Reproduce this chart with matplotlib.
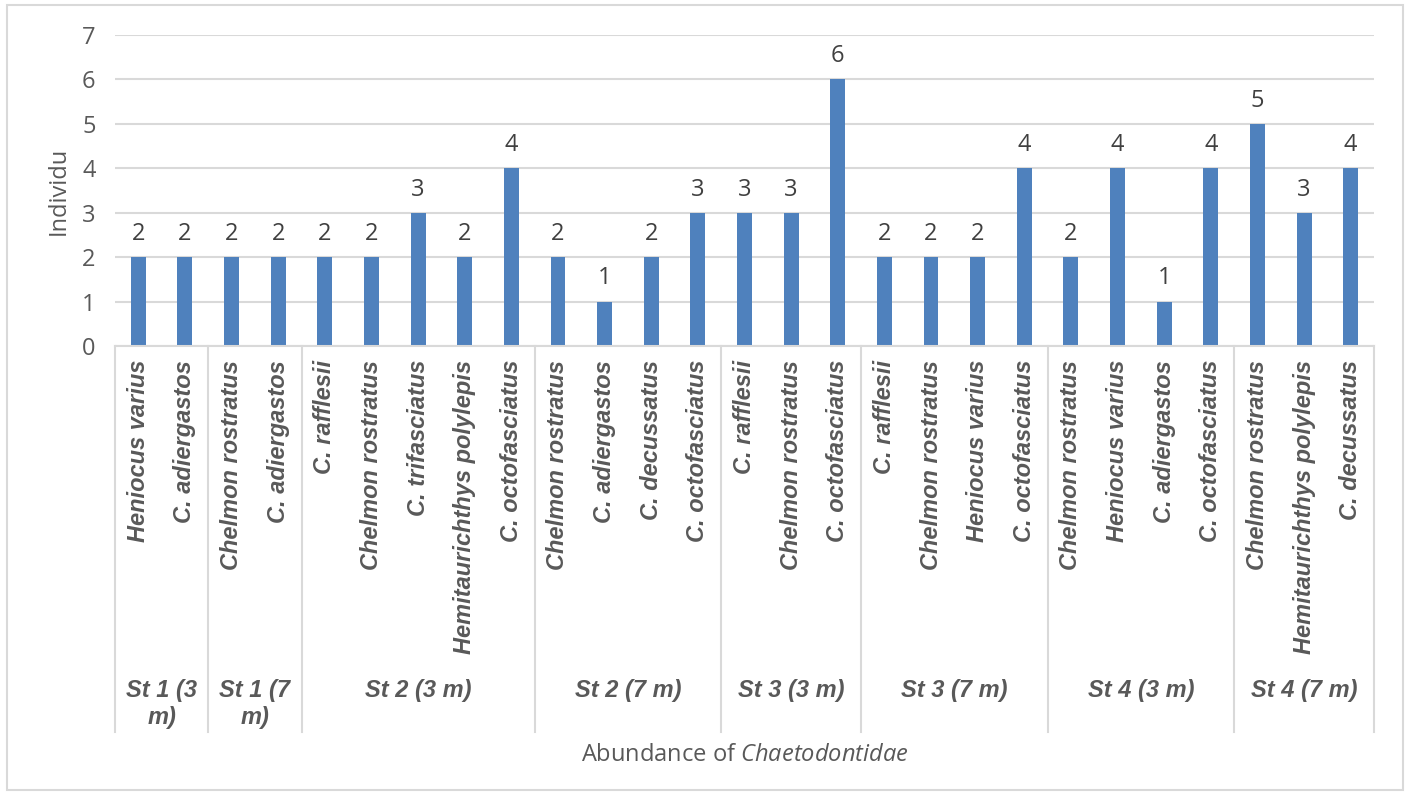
import matplotlib.pyplot as plt
from matplotlib.patches import Rectangle
from matplotlib.transforms import blended_transform_factory

plt.rcParams['mathtext.fontset'] = 'custom'
plt.rcParams['mathtext.it'] = 'Open Sans:italic'
plt.rcParams['mathtext.rm'] = 'Open Sans'

# species per bar, in order
species = [
    "Heniocus varius", "C. adiergastos",
    "Chelmon rostratus", "C. adiergastos",
    "C. rafflesii", "Chelmon rostratus", "C. trifasciatus", "Hemitaurichthys polylepis", "C. octofasciatus",
    "Chelmon rostratus", "C. adiergastos", "C. decussatus", "C. octofasciatus",
    "C. rafflesii", "Chelmon rostratus", "C. octofasciatus",
    "C. rafflesii", "Chelmon rostratus", "Heniocus varius", "C. octofasciatus",
    "Chelmon rostratus", "Heniocus varius", "C. adiergastos", "C. octofasciatus",
    "Chelmon rostratus", "Hemitaurichthys polylepis", "C. decussatus",
]
counts = [2, 2, 2, 2, 2, 2, 3, 2, 4, 2, 1, 2, 3, 3, 3, 6, 2, 2, 2, 4, 2, 4, 1, 4, 5, 3, 4]

groups = ["St 1 (3\nm)", "St 1 (7\nm)", "St 2 (3 m)", "St 2 (7 m)",
          "St 3 (3 m)", "St 3 (7 m)", "St 4 (3 m)", "St 4 (7 m)"]
group_sizes = [2, 2, 5, 4, 3, 4, 4, 3]

bar_color = "#4F81BD"
text_color = "#595959"
grid_color = "#D9D9D9"
fs = 17

fig = plt.figure(figsize=(14.06, 7.98), dpi=100)
ax = fig.add_axes([115 / 1406, 1 - 346 / 798, (1374 - 115) / 1406, (346 - 35) / 798])

x = list(range(len(counts)))
bars = ax.bar(x, counts, width=0.32, color=bar_color, zorder=3)
for xi, v in zip(x, counts):
    ax.annotate(str(v), (xi, v), xytext=(0, 8), textcoords="offset points",
                ha="center", va="bottom", fontsize=fs, color="#404040", family="Open Sans")

ax.set_xlim(-0.5, len(counts) - 0.5)
ax.set_ylim(0, 7)
ax.set_yticks(range(8))
ax.set_yticklabels([str(i) for i in range(8)], fontsize=fs, color=text_color, family="Open Sans")
ax.tick_params(axis="y", length=0, pad=14)
ax.set_xticks([])
for s in ax.spines.values():
    s.set_visible(False)
ax.yaxis.grid(True, color=grid_color, linewidth=1.5, zorder=0)
ax.axhline(0, color=grid_color, linewidth=1.5, zorder=4, clip_on=False)
ax.set_ylabel("Individu", fontsize=fs, color=text_color, family="Open Sans", labelpad=8)

trans = blended_transform_factory(ax.transData, ax.transAxes)
px = 1.0 / (346 - 35)  # axes fraction per pixel

# species labels
for xi, name in zip(x, species):
    ax.text(xi, -14 * px, name, transform=trans, rotation=90, ha="center", va="top",
            fontsize=fs, fontweight="bold", fontstyle="italic", color=text_color,
            family="Liberation Sans")

# group separators and labels
start = 0
bounds = [0]
for g, n in zip(groups, group_sizes):
    start_new = start + n
    center = (start + start_new - 1) / 2
    ax.text(center, -(679 - 346) * px, g, transform=trans, ha="center", va="top",
            fontsize=fs, fontweight="bold", fontstyle="italic", color=text_color,
            family="Liberation Sans", linespacing=1.2)
    bounds.append(start_new)
    start = start_new
for b in bounds:
    ax.plot([b - 0.5, b - 0.5], [0, -(732 - 346) * px], transform=trans,
            color=grid_color, linewidth=1.5, clip_on=False)

fig.text(744.5 / 1406, 1 - 755 / 798, r"Abundance of $\mathit{Chaetodontidae}$",
         ha="center", va="center", fontsize=fs, color=text_color, family="Open Sans")

fig.patches.append(Rectangle((7 / 1406, 8 / 798), 1396 / 1406, 785 / 798,
                             transform=fig.transFigure, fill=False,
                             edgecolor=grid_color, linewidth=1.5))

fig.savefig("out.png", dpi=100)
